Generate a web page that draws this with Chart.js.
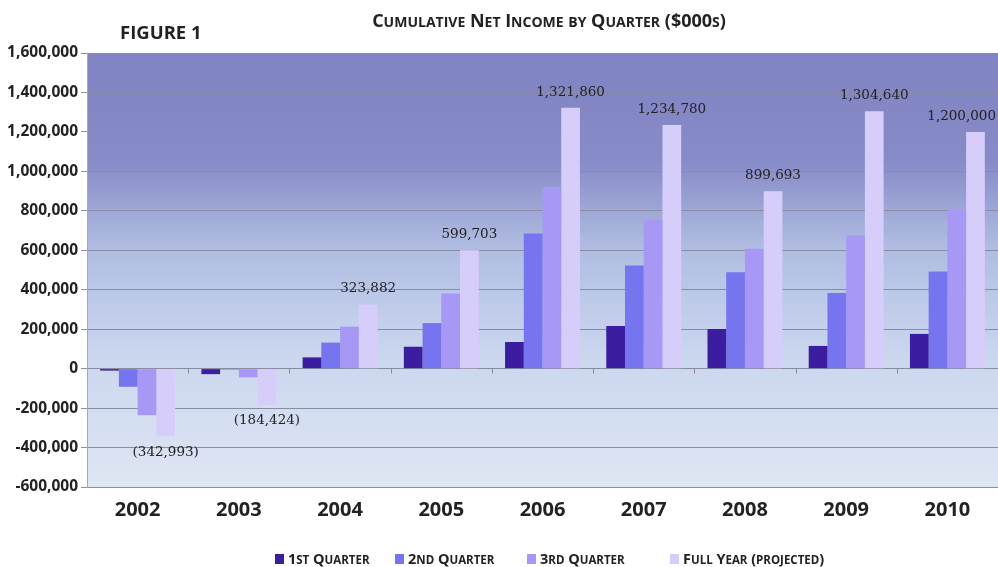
<!DOCTYPE html>
<html lang="en">
<head>
<meta charset="UTF-8">
<title>Cumulative Net Income by Quarter</title>
<script src="https://cdn.jsdelivr.net/npm/chart.js"></script>
<style>
  html, body { margin: 0; padding: 0; background: #fff; }
</style>
</head>
<body>
<canvas id="myChart" width="998" height="567"></canvas>
<script>
// data ($000s, cumulative)
const years = ['2002', '2003', '2004', '2005', '2006', '2007', '2008', '2009', '2010'];
const seriesNames = ['1st Quarter', '2nd Quarter', '3rd Quarter', 'Full Year (projected)'];
const q1 = [-10000, -28000, 57000, 111000, 135000, 216000, 201000, 115000, 176000];
const q2 = [-92000, -5000, 132000, 231000, 685000, 523000, 488000, 383000, 493000];
const q3 = [-236000, -44000, 213000, 381000, 921000, 756000, 608000, 675000, 805000];
const fullYear = [-342993, -184424, 323882, 599703, 1321860, 1234780, 899693, 1304640, 1200000];
const colors = ['#3a1e9f', '#7674ef', '#a798f5', '#d6cdfb'];

const FONT = '"Open Sans"';

function smallCaps(ctx, text, x, y, big, small, align) {
    const parts = [];
    for (const ch of text) {
        const size = ch !== ch.toUpperCase() ? small : big;
        const last = parts[parts.length - 1];
        if (last && last.size === size) last.t += ch.toUpperCase();
        else parts.push({ t: ch.toUpperCase(), size: size });
    }
    let w = 0;
    parts.forEach(p => {
        ctx.font = 'bold ' + p.size + 'px ' + FONT;
        p.w = ctx.measureText(p.t).width;
        w += p.w;
    });
    let cx = align === 'center' ? x - w / 2 : x;
    ctx.textAlign = 'left';
    ctx.textBaseline = 'alphabetic';
    parts.forEach(p => {
        ctx.font = 'bold ' + p.size + 'px ' + FONT;
        ctx.fillText(p.t, cx, y);
        cx += p.w;
    });
    return w;
}

// gradient behind the plot
const background = {
    id: 'background',
    beforeDraw(chart) {
        const { ctx, chartArea: a } = chart;
        const g = ctx.createLinearGradient(0, a.top, 0, a.bottom);
        g.addColorStop(0, '#8183c2');
        g.addColorStop(0.25, '#878bc7');
        g.addColorStop(0.45, '#b0bde2');
        g.addColorStop(0.7, '#cbd7ef');
        g.addColorStop(1, '#dfe6f4');
        ctx.save();
        ctx.fillStyle = g;
        ctx.fillRect(a.left, a.top, a.right - a.left, a.bottom - a.top);
        ctx.restore();
    }
};

// small category ticks on the zero line + value labels on full year bars
const extras = {
    id: 'extras',
    afterDatasetsDraw(chart) {
        const { ctx } = chart;
        const xs = chart.scales.x, ys = chart.scales.y;
        const y0 = ys.getPixelForValue(0);
        ctx.save();
        ctx.strokeStyle = '#8a8da2';
        ctx.lineWidth = 1;
        for (let i = 0; i < years.length - 1; i++) {
            const bx = Math.round((xs.getPixelForTick(i) + xs.getPixelForTick(i + 1)) / 2) + 0.5;
            ctx.beginPath();
            ctx.moveTo(bx, y0);
            ctx.lineTo(bx, y0 + 5);
            ctx.stroke();
        }
        const meta = chart.getDatasetMeta(3);
        ctx.font = '13.5px "DejaVu Serif"';
        ctx.fillStyle = '#222';
        ctx.textAlign = 'center';
        meta.data.forEach((el, i) => {
            const v = fullYear[i];
            let txt, ty;
            if (v >= 0) {
                txt = v.toLocaleString('en-US');
                ctx.textBaseline = 'bottom';
                ty = el.y - 9;
            } else {
                txt = '(' + (-v).toLocaleString('en-US') + ')';
                ctx.textBaseline = 'top';
                ty = el.y + 9;
            }
            const w = ctx.measureText(txt).width;
            let tx = Math.min(el.x, 996 - w / 2);
            ctx.fillText(txt, tx, ty);
        });
        ctx.restore();
    },
    afterDraw(chart) {
        const { ctx } = chart;
        ctx.save();
        ctx.fillStyle = '#222';
        ctx.font = 'bold 18.5px ' + FONT;
        ctx.textAlign = 'left';
        ctx.textBaseline = 'alphabetic';
        ctx.fillText('FIGURE 1', 120, 39);
        smallCaps(ctx, 'Cumulative Net Income by Quarter ($000s)', 549, 27, 18, 14, 'center');

        // legend
        let lx = 275;
        const ly = 564;
        const gaps = [120, 132, 143, 0];
        seriesNames.forEach((name, i) => {
            ctx.fillStyle = colors[i];
            ctx.fillRect(lx, ly - 10, 9, 10);
            ctx.fillStyle = '#222';
            smallCaps(ctx, name, lx + 13, ly, 14.5, 11.5, 'left');
            lx += gaps[i];
        });
        ctx.restore();
    }
};

const ctx = document.getElementById('myChart').getContext('2d');
const myChart = new Chart(ctx, {
    type: 'bar',
    data: {
        labels: years,
        datasets: [q1, q2, q3, fullYear].map((d, i) => ({
            label: seriesNames[i],
            data: d,
            backgroundColor: colors[i],
            borderWidth: 0,
            categoryPercentage: 0.74,
            barPercentage: 1
        }))
    },
    plugins: [background, extras],
    options: {
        responsive: false,
        animation: false,
        layout: { padding: { top: 53, left: 0, right: 0, bottom: 40 } },
        scales: {
            x: {
                grid: { display: false, drawTicks: false },
                border: { display: false },
                afterFit(scale) { scale.height = 40; },
                ticks: {
                    padding: 11,
                    color: '#222',
                    font: { family: FONT, size: 20, weight: 'bold' }
                }
            },
            y: {
                min: -600000,
                max: 1600000,
                afterFit(scale) { scale.width = 87; },
                grid: { color: '#8a8da2', lineWidth: 1, tickLength: 6 },
                border: { display: true, color: '#a6a9ba' },
                ticks: {
                    stepSize: 200000,
                    padding: 3,
                    color: '#222',
                    font: { family: FONT, size: 15.5, weight: 'bold' },
                    callback: function (value) {
                        return value.toLocaleString('en-US');
                    }
                }
            }
        },
        plugins: {
            legend: { display: false },
            title: { display: false },
            tooltip: { enabled: false }
        }
    }
});
</script>
</body>
</html>
